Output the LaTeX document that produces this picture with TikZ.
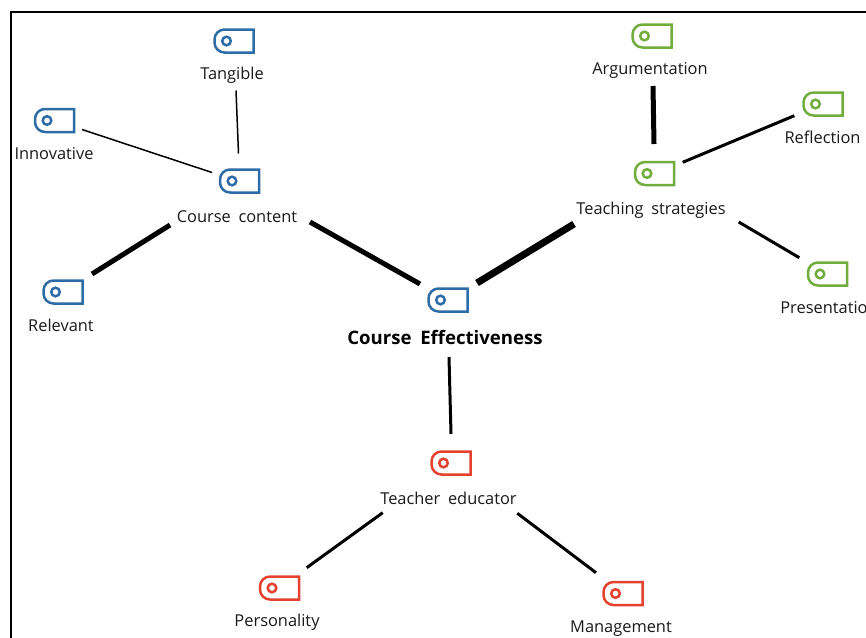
\documentclass[tikz,border=0pt]{standalone}
\usepackage{fontspec}
\setmainfont[WordSpace=1.8]{Open Sans}

\definecolor{tagblue}{HTML}{2E6CA8}
\definecolor{taggreen}{HTML}{70AD3C}
\definecolor{tagred}{HTML}{E4412E}

\tikzset{
    tagbox/.style={minimum width=41pt, minimum height=25pt, inner sep=0pt},
    tagline/.style={line width=2.5pt},
    topic/.style={font=\fontsize{16.4pt}{18pt}\selectfont, text=black!90, inner sep=1pt},
    mainrel/.style={line width=#1pt, black}
}

\newcommand{\tagicon}[3]{%
    \node[tagbox] (#1) at (#2) {};
    \draw[tagline, draw=#3] ([shift={(19.5,-11.5)}]#1.center) [rounded corners=10pt] -- ([shift={(-19.5,-11.5)}]#1.center)
        -- ([shift={(-19.5,11.5)}]#1.center) [sharp corners] -- ([shift={(19.5,11.5)}]#1.center) -- cycle;
    \draw[tagline, draw=#3] ([shift={(-7.5,0)}]#1.center) circle (4.3pt);
}

\begin{document}
\begin{tikzpicture}[x=1pt, y=-1pt]
    \useasboundingbox (0, 0) rectangle (866, 637);
    % frame
    \draw[line width=2.5pt] (11, 12) rectangle (890, 660);

    % course content
    \tagicon{tagtangible}{234, 41}{tagblue}
    \tagicon{taginnovative}{54.5, 120.5}{tagblue}
    \tagicon{tagcontent}{239.5, 181}{tagblue}
    \tagicon{tagrelevant}{63, 292}{tagblue}
    \node[topic] (tangible) at (232, 75.5) {Tangible};
    \node[topic] (innovative) at (54, 153.5) {Innovative};
    \node[topic] (content) at (237, 217) {Course content};
    \node[topic] (relevant) at (61, 325) {Relevant};

    % root
    \tagicon{tagroot}{448, 300}{tagblue}
    \node[topic, font=\fontsize{18.6pt}{20pt}\selectfont\bfseries, text=black] (root) at (445, 337.5) {Course Effectiveness};

    % teaching strategies
    \tagicon{tagargument}{652, 36}{taggreen}
    \tagicon{tagreflection}{823, 104}{taggreen}
    \tagicon{tagteaching}{654.5, 173.5}{taggreen}
    \tagicon{tagpresentation}{827.5, 274}{taggreen}
    \node[topic] (argument) at (650, 70.5) {Argumentation};
    \node[topic] (reflection) at (822.5, 137) {Reflection};
    \node[topic] (teaching) at (651, 210.5) {Teaching strategies};
    \node[topic] (presentation) at (829, 308) {Presentation};

    % teacher educator
    \tagicon{tagteacher}{451, 463}{tagred}
    \tagicon{tagpersonality}{279.5, 588}{tagred}
    \tagicon{tagmanagement}{623, 593.5}{tagred}
    \node[topic] (teacher) at (448.5, 498) {Teacher educator};
    \node[topic] (personality) at (277, 622.5) {Personality};
    \node[topic] (management) at (621, 628.5) {Management};

    % connectors
    \draw[mainrel=1.5] ([shift={(4,15)}]tangible.center) -- ([shift={(-1,-27.5)}]tagcontent.center);
    \draw[mainrel=1.5] ([shift={(27.5,9)}]taginnovative.center) -- ([shift={(-27.5,-8.5)}]tagcontent.center);
    \draw[mainrel=5] ([shift={(29,-18)}]tagrelevant.center) -- ([shift={(-67,8)}]content.center);
    \draw[mainrel=5] ([shift={(73,5)}]content.center) -- ([shift={(-28,-16)}]tagroot.center);
    \draw[mainrel=7] ([shift={(29,-17)}]tagroot.center) -- ([shift={(-77,13.5)}]teaching.center);
    \draw[mainrel=5] ([shift={(3,15.5)}]argument.center) -- ([shift={(-0.5,-29.5)}]tagteaching.center);
    \draw[mainrel=3] ([shift={(-28.7,11.7)}]tagreflection.center) -- ([shift={(28.2,-11.2)}]tagteaching.center);
    \draw[mainrel=3] ([shift={(87.7,11.5)}]teaching.center) -- ([shift={(-28.2,-16.3)}]tagpresentation.center);
    \draw[mainrel=3] ([shift={(4,19.5)}]root.center) -- ([shift={(0,-29)}]tagteacher.center);
    \draw[mainrel=3] ([shift={(-65.8,14.7)}]teacher.center) -- ([shift={(27.2,-20.3)}]tagpersonality.center);
    \draw[mainrel=3] ([shift={(68.8,15.3)}]teacher.center) -- ([shift={(-27,-20.8)}]tagmanagement.center);
\end{tikzpicture}
\end{document}
